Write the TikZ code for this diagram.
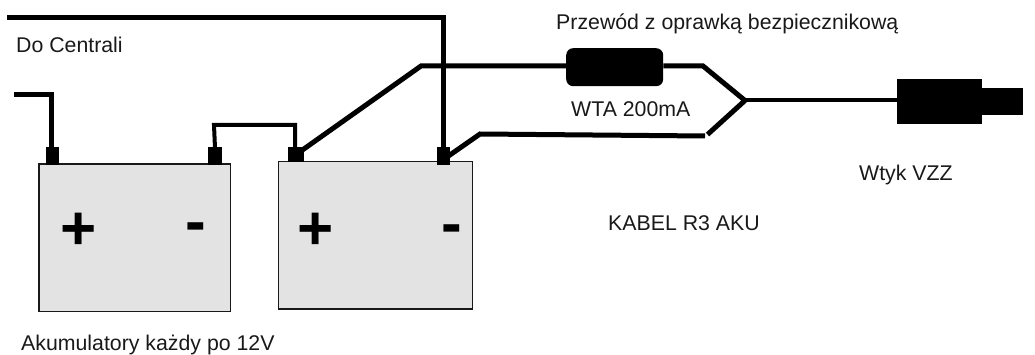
\documentclass[tikz,border=0pt]{standalone}
\usepackage{fontspec}
\setmainfont{Liberation Sans}
\begin{document}
\begin{tikzpicture}[x=1pt,y=-1pt,
  lbl/.style={anchor=base west,inner sep=0pt,font=\fontsize{21.3}{24}\selectfont,text=black!90},
  sign/.style={anchor=center,inner sep=0pt,font=\bfseries\fontsize{62}{64}\selectfont},
  batt/.style={draw=black!90,line width=1.5pt,fill=black!11,inner sep=0pt,anchor=north west},
  term/.style={fill=black,inner sep=0pt,anchor=north west},
  wire/.style={draw=black,line width=5pt,line join=miter},
  thin wire/.style={draw=black,line width=4pt}]
\useasboundingbox (0,0) rectangle (1035,355);
\coordinate (topS) at (7,18);
\coordinate (topB) at (443,18);
\coordinate (leftS) at (14,95);
\coordinate (leftB) at (51.5,95);
\coordinate (lkA) at (214,125);
\coordinate (lkB) at (295,125);
\coordinate (posA) at (301,151);
\coordinate (posB) at (421,66);
\coordinate (fuseOut) at (703,66);
\coordinate (join) at (745,100.5);
\coordinate (negS) at (447,157);
\coordinate (negA) at (480,134);
\coordinate (negB) at (705,136);
\coordinate (negC) at (707.5,134.5);
\node[batt,minimum width=191.5pt,minimum height=147pt] (b1) at (38,163.5) {};
\node[batt,minimum width=194pt,minimum height=147pt] (b2) at (277.5,161) {};
\node[term,minimum width=13pt,minimum height=18pt] (t1p) at (46,147) {};
\node[term,minimum width=13.5pt,minimum height=18pt] (t1n) at (208,147) {};
\node[term,minimum width=16pt,minimum height=15pt] (t2p) at (287.5,147) {};
\node[term,minimum width=13pt,minimum height=18pt] (t2n) at (437,147) {};
\node[fill=black,rounded corners=7pt,inner sep=0pt,minimum width=97pt,minimum height=38pt,anchor=north west] (fuse) at (566,48) {};
\node[term,minimum width=85pt,minimum height=45pt] (plugA) at (897,79) {};
\node[term,minimum width=41.5pt,minimum height=27pt] (plugB) at (981.5,88) {};
\draw[wire] (topS) -- (topB) -- (t2n.north -| topB);
\draw[wire] (leftS) -- (leftB) -- (t1p.north -| leftB);
\draw[thin wire] (t1n.north) -- (lkA) -- (lkB) -- (t2p.north -| lkB);
\draw[wire] (posA) -- (posB) -- (fuse.west |- posB);
\draw[wire] (fuse.east |- posB) -- (fuseOut) -- (join);
\draw[thin wire] (join) -- (plugA.west |- join);
\draw[wire] (negS) -- (negA) -- (negB);
\draw[wire] (negC) -- (join);
\node[sign] (s1p) at (79,231.5) {+};
\node[sign] (s1n) at (196,233) {-};
\node[sign] (s2p) at (316,231.5) {+};
\node[sign] (s2n) at (452,235) {-};
\node[lbl] (l1) at (16,53) {Do Centrali};
\node[lbl] (l2) at (21,350) {Akumulatory każdy po 12V};
\node[lbl] (l3) at (556,30) {Przewód z oprawką bezpiecznikową};
\node[lbl] (l4) at (571,116.5) {WTA 200mA};
\node[lbl] (l5) at (859,181) {Wtyk VZZ};
\node[lbl] (l6) at (608,231) {KABEL R3 AKU};
\end{tikzpicture}
\end{document}
